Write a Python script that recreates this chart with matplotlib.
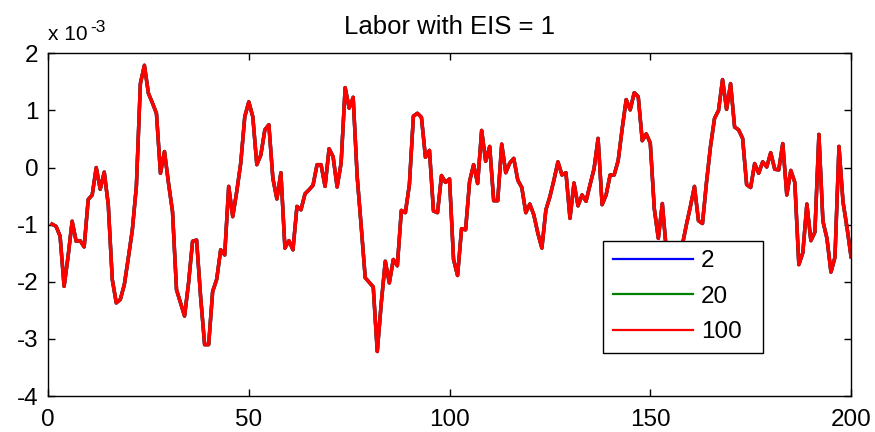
import numpy as np
import matplotlib
matplotlib.use('Agg')
import matplotlib.pyplot as plt

plt.rcParams['font.family'] = ['Liberation Sans', 'DejaVu Sans']
plt.rcParams['axes.unicode_minus'] = False

# labor response (units of 1e-3), t = 1..200, same path for all three settings
t = np.arange(1, 201)
labor = [
    -0.99, -1.03, -1.20, -2.08, -1.55, -0.94, -1.29, -1.28, -1.39, -0.56,
    -0.48, 0.00, -0.38, -0.08, -0.65, -1.96, -2.37, -2.31, -2.05, -1.58,
    -1.09, -0.33, 1.47, 1.79, 1.30, 1.13, 0.95, -0.10, 0.28, -0.27,
    -0.77, -2.14, -2.37, -2.60, -2.02, -1.29, -1.27, -2.26, -3.10, -3.10,
    -2.17, -1.96, -1.44, -1.53, -0.33, -0.86, -0.42, 0.08, 0.89, 1.15,
    0.89, 0.05, 0.22, 0.66, 0.75, -0.19, -0.55, -0.09, -1.41, -1.28,
    -1.44, -0.68, -0.74, -0.46, -0.39, -0.31, 0.05, 0.05, -0.33, 0.33,
    0.19, -0.34, 0.08, 1.40, 1.04, 1.23, -0.16, -1.03, -1.93, -2.01,
    -2.09, -3.22, -2.37, -1.64, -2.02, -1.61, -1.72, -0.75, -0.79, -0.30,
    0.90, 0.95, 0.88, 0.18, 0.30, -0.76, -0.79, -0.14, -0.26, -0.20,
    -1.61, -1.89, -1.07, -1.09, -0.24, 0.05, -0.28, 0.65, 0.11, 0.37,
    -0.58, -0.58, 0.41, -0.09, 0.08, 0.16, -0.22, -0.35, -0.79, -0.64,
    -0.83, -1.15, -1.41, -0.74, -0.51, -0.22, 0.10, -0.13, -0.09, -0.89,
    -0.27, -0.67, -0.48, -0.59, -0.30, -0.02, 0.51, -0.65, -0.48, -0.13,
    -0.13, 0.12, 0.68, 1.19, 1.01, 1.31, 1.24, 0.47, 0.59, 0.43,
    -0.72, -1.24, -0.63, -1.45, -1.80, -1.70, -1.50, -1.35, -1.00, -0.68,
    -0.33, -0.93, -0.98, -0.26, 0.37, 0.86, 1.00, 1.54, 1.02, 1.47,
    0.71, 0.66, 0.51, -0.30, -0.35, 0.07, -0.10, 0.10, 0.01, 0.26,
    -0.03, -0.04, 0.42, -0.48, -0.05, -0.26, -1.70, -1.49, -0.64, -1.28,
    -1.13, 0.58, -0.94, -1.24, -1.83, -1.57, 0.37, -0.60, -1.05, -1.56,
]
series_labels = ['2', '20', '100']
series_colors = ['#0000ff', '#008000', '#ff0000']

fig = plt.figure(figsize=(8.75, 4.32), dpi=100)
ax = fig.add_axes([0.0549, 0.0833, 0.9177, 0.7933])

for lab, col in zip(series_labels, series_colors):
    ax.plot(t, labor, color=col, lw=2.5, label=lab)

ax.set_xlim(0, 200)
ax.set_ylim(-4, 2)
ax.set_xticks([0, 50, 100, 150, 200])
ax.set_yticks([-4, -3, -2, -1, 0, 1, 2])
ax.tick_params(direction='in', length=5, width=1, labelsize=17.5,
               top=True, right=True)
ax.tick_params(axis='x', pad=9)
ax.tick_params(axis='y', pad=7)
for s in ax.spines.values():
    s.set_linewidth(1.0)

ax.set_title('Labor with EIS = 1', fontsize=18.5, pad=14)
ax.text(0.0, 1.038, 'x 10', transform=ax.transAxes, fontsize=15,
        ha='left', va='baseline')
ax.text(0.053, 1.062, '-3', transform=ax.transAxes, fontsize=12.5,
        ha='left', va='baseline')

leg = ax.legend(loc='lower left', bbox_to_anchor=(0.691, 0.126, 0.2, 0.327),
                mode='expand', fontsize=17.5, frameon=True, fancybox=False,
                edgecolor='black', framealpha=1, handlelength=3.3,
                handletextpad=0.33, labelspacing=0.55, borderaxespad=0,
                borderpad=0.4)
leg.get_frame().set_linewidth(1.0)
for ln in leg.get_lines():
    ln.set_linewidth(1.6)

fig.savefig('out.png', dpi=100)
